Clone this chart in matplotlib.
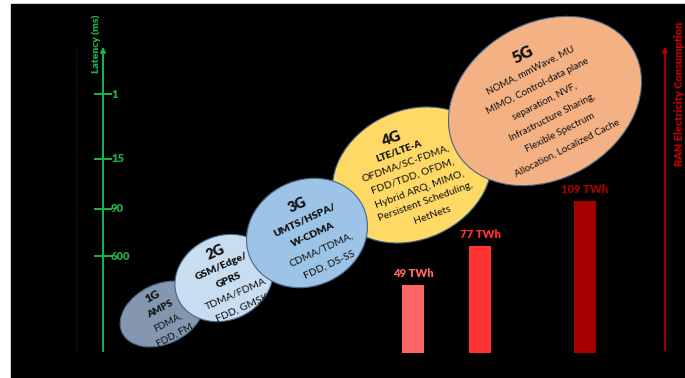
import matplotlib as mpl
mpl.use('agg')
import matplotlib.pyplot as plt
from matplotlib.patches import Ellipse, Rectangle
import numpy as np

## chart content
generations = ["1G", "2G", "3G", "4G", "5G"]
standards = [["AMPS"], ["GSM/Edge/", "GPRS"], ["UMTS/HSPA/", "W-CDMA"], ["LTE/LTE-A"], []]
techniques = [
    ["FDMA,", "FDD, FM"],
    ["TDMA/FDMA", "FDD, GMSK"],
    ["CDMA/TDMA,", "FDD, DS-SS"],
    ["OFDMA/SC-FDMA,", "FDD/TDD, OFDM,", "Hybrid ARQ, MIMO,", "Persistent Scheduling,", "HetNets"],
    ["NOMA, mmWave, MU", "MIMO, Control-data plane", "separation, NVF,",
     "Infrastructure Sharing,", "Flexible Spectrum", "Allocation, Localized Cache"],
]
energy_twh = [49, 77, 109]
latency_labels = ["1", "15", "90", "600"]

## layout (pixel space, y downwards)
W, H = 685, 378
ell_center = [(162, 314), (224, 278), (307, 233), (412, 175), (545, 101)]
ell_size = [(88, 60), (101, 84), (124, 106), (165, 129), (204, 156)]
ell_angle = [25, 25, 25, 25, 30]
ell_color = ['#8496B0', '#C9DDF0', '#9DC3E6', '#FFD966', '#F4B183']
ell_zorder = [2, 3, 5, 4, 6]
txt_start = [(153, 296), (215, 252), (297, 205), (392, 138), (523, 55)]
txt_step = [(7.3, 13.2), (6.8, 14), (8.2, 15), (6.8, 12.8), (7.3, 15.5)]
txt_rot = [28, 24, 25, 20, 27]
title_size = [8.5, 10.5, 10.5, 11, 12]
std_size = [7, 7.5, 7.5, 7, 7]
body_size = [7, 7.5, 7.5, 7.5, 7]

bar_x = [413, 480, 585]
bar_colors = ['#FF6666', '#FF3333', '#A50000']
latency_y = [94, 159, 209, 256]

green = '#1FB24A'
red = '#C00000'
plt.rcParams['font.family'] = ['Lato', 'DejaVu Sans']

fig = plt.figure(figsize=(W / 100, H / 100), dpi=100)
fig.patch.set_facecolor('white')
ax = fig.add_axes([0, 0, 1, 1])
ax.set_xlim(0, W)
ax.set_ylim(H, 0)
ax.axis('off')

ax.add_patch(Rectangle((11, 4), W - 11, H - 4, color='black', zorder=0))

# faint guide line left of the latency axis
ax.plot([76, 76], [47, 353], color='#0d0d0d', lw=1, zorder=1)

# latency axis
ax.annotate('', xy=(103, 44), xytext=(103, 354),
            arrowprops=dict(arrowstyle='-|>', color=green, lw=1.4, mutation_scale=7))
for y, lab in zip(latency_y, latency_labels):
    ax.plot([95, 111], [y, y], color=green, lw=1.4)
    ax.text(111, y, lab, color=green, fontsize=8, fontweight='heavy', va='center', ha='left')
ax.text(96, 44, 'Latency (ms)', color=green, fontsize=7.5, fontweight='heavy',
        rotation=90, ha='center', va='center')

# energy axis
ax.annotate('', xy=(665, 44), xytext=(665, 353),
            arrowprops=dict(arrowstyle='-|>', color=red, lw=1.2, mutation_scale=7))
ax.text(680, 94, 'RAN Electricity Consumption', color=red, fontsize=7.8, fontweight='heavy',
        rotation=90, ha='center', va='center')

# generation bubbles
for i, g in enumerate(generations):
    cx, cy = ell_center[i]
    w, h = ell_size[i]
    e = Ellipse((cx, cy), w, h, angle=-ell_angle[i], facecolor=ell_color[i],
                edgecolor='#44658A', lw=0.8, zorder=ell_zorder[i])
    ax.add_patch(e)
    lines = [(g, title_size[i], 'heavy')]
    lines += [(s, std_size[i], 'heavy') for s in standards[i]]
    lines += [(t, body_size[i], 'normal') for t in techniques[i]]
    x0, y0 = txt_start[i]
    dx, dy = txt_step[i]
    for k, (s, fs, fw) in enumerate(lines):
        t = ax.text(x0 + k * dx, y0 + k * dy, s, fontsize=fs, fontweight=fw,
                    color='#111111', rotation=txt_rot[i], rotation_mode='anchor',
                    ha='center', va='center', zorder=ell_zorder[i] + 0.5)
        t.set_clip_path(e)

# energy bars, own axes with a TWh scale
bx0, bx1, by0, by1 = 370, 620, 353, 183
bax = fig.add_axes([bx0 / W, (H - by0) / H, (bx1 - bx0) / W, (by0 - by1) / H])
bax.set_xlim(bx0, bx1)
bax.set_ylim(0, (by0 - by1) / 1.394)
bax.axis('off')
bax.patch.set_alpha(0)
bars = bax.bar(bar_x, energy_twh, width=22, color=bar_colors)
for b, v, c in zip(bars, energy_twh, bar_colors):
    bax.text(b.get_x() + b.get_width() / 2, v + 4, f"{v} TWh", color=c,
             fontsize=8, fontweight='heavy', ha='center', va='bottom')

fig.savefig('out.png', dpi=100, facecolor='white')
